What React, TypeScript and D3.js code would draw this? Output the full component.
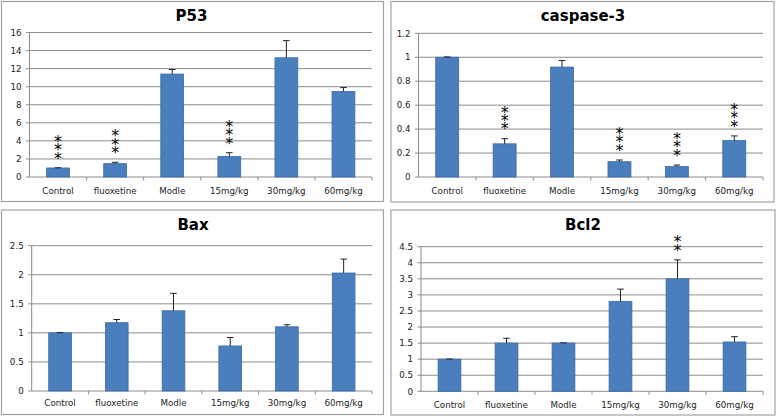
import React from "react";
import * as d3 from "d3";

const categories = ["Control", "fluoxetine", "Modle", "15mg/kg", "30mg/kg", "60mg/kg"];

const p53Values = [1.0, 1.48, 11.4, 2.27, 13.2, 9.47];
const p53Errors = [0.02, 0.15, 0.5, 0.42, 1.9, 0.43];
const p53Stars = [3, 3, 0, 3, 0, 0];
const p53Ticks = [0, 2, 4, 6, 8, 10, 12, 14, 16];

const caspValues = [1.0, 0.277, 0.918, 0.128, 0.087, 0.305];
const caspErrors = [0.003, 0.043, 0.055, 0.014, 0.013, 0.038];
const caspStars = [0, 3, 0, 3, 3, 3];
const caspTicks = [0, 0.2, 0.4, 0.6, 0.8, 1, 1.2];

const baxValues = [1.0, 1.175, 1.38, 0.775, 1.105, 2.03];
const baxErrors = [0.005, 0.055, 0.3, 0.145, 0.035, 0.24];
const baxStars = [0, 0, 0, 0, 0, 0];
const baxTicks = [0, 0.5, 1, 1.5, 2, 2.5];

const bcl2Values = [1.0, 1.5, 1.5, 2.8, 3.5, 1.535];
const bcl2Errors = [0.005, 0.15, 0.01, 0.38, 0.59, 0.165];
const bcl2Stars = [0, 0, 0, 0, 2, 0];
const bcl2Ticks = [0, 0.5, 1, 1.5, 2, 2.5, 3, 3.5, 4, 4.5];

const titles = ["P53", "caspase-3", "Bax", "Bcl2"];

type PanelCfg = {
  title: string;
  values: number[];
  errors: number[];
  stars: number[];
  ticks: number[];
  box: [number, number, number, number];
  plot: { left: number; right: number; top: number; bottom: number };
  labelY: number;
  titleX: number;
  titleY: number;
};

const panels: PanelCfg[] = [
  {
    title: titles[0], values: p53Values, errors: p53Errors, stars: p53Stars, ticks: p53Ticks,
    box: [1.5, 1.5, 382, 200],
    plot: { left: 29.5, right: 372, top: 32.5, bottom: 177 },
    labelY: 194, titleX: 191.5, titleY: 21,
  },
  {
    title: titles[1], values: caspValues, errors: caspErrors, stars: caspStars, ticks: caspTicks,
    box: [391, 1.5, 383, 200.5],
    plot: { left: 418.5, right: 763, top: 33.3, bottom: 177 },
    labelY: 194, titleX: 583, titleY: 20.5,
  },
  {
    title: titles[2], values: baxValues, errors: baxErrors, stars: baxStars, ticks: baxTicks,
    box: [1.5, 210, 382, 204.5],
    plot: { left: 31.7, right: 372, top: 245.7, bottom: 391 },
    labelY: 406, titleX: 193, titleY: 229.5,
  },
  {
    title: titles[3], values: bcl2Values, errors: bcl2Errors, stars: bcl2Stars, ticks: bcl2Ticks,
    box: [391, 210, 384, 205],
    plot: { left: 421, right: 763, top: 246.7, bottom: 391.3 },
    labelY: 407.5, titleX: 583, titleY: 230,
  },
];

const FONT = "'DejaVu Sans', Verdana, sans-serif";
const GRID = "#8c8c8c";
const BAR = "#4a7ebd";
const BAR_STROKE = "#3b6aa3";
const STAR_STEP = 8.4;
const STAR_FS = 16;
const PAD = 12;

function Panel({ cfg }: { cfg: PanelCfg }) {
  const { plot } = cfg;
  const maxTick = cfg.ticks[cfg.ticks.length - 1];
  const y = d3.scaleLinear().domain([0, maxTick]).range([plot.bottom, plot.top]);
  const x = d3.scaleBand<string>().domain(categories).range([plot.left, plot.right]).paddingInner(0).paddingOuter(0);
  const bw = x.bandwidth() * 0.4;
  const fmt = (v: number) => String(Math.round(v * 100) / 100);
  const [bx, by, bwid, bh] = cfg.box;

  return (
    <g>
      <rect x={bx} y={by} width={bwid} height={bh} fill="#fff" stroke="#a3a3a3" strokeWidth={1.2} />
      <text x={cfg.titleX} y={cfg.titleY} textAnchor="middle" fontFamily={FONT} fontWeight="bold" fontSize={15} fill="#000">
        {cfg.title}
      </text>
      {cfg.ticks.map((t) => (
        <g key={"t" + t}>
          {t > 0 && (
            <line x1={plot.left} x2={plot.right} y1={y(t)} y2={y(t)} stroke={GRID} strokeWidth={1} />
          )}
          <line x1={plot.left - 3.5} x2={plot.left} y1={y(t)} y2={y(t)} stroke={GRID} strokeWidth={1} />
          <text x={plot.left - 8} y={y(t) + 3.2} textAnchor="end" fontFamily={FONT} fontSize={8.7} fill="#222">
            {fmt(t)}
          </text>
        </g>
      ))}
      <line x1={plot.left} x2={plot.left} y1={plot.top} y2={plot.bottom} stroke={GRID} strokeWidth={1} />
      <line x1={plot.left} x2={plot.right} y1={plot.bottom} y2={plot.bottom} stroke={GRID} strokeWidth={1} />
      {categories.map((c, i) => (
        <line key={"xt" + i} x1={(x(c) as number) + x.bandwidth()} x2={(x(c) as number) + x.bandwidth()}
          y1={plot.bottom} y2={plot.bottom + 3.5} stroke={GRID} strokeWidth={1} />
      ))}
      {categories.map((c, i) => {
        const cx = (x(c) as number) + x.bandwidth() / 2;
        const v = cfg.values[i];
        const e = cfg.errors[i];
        const top = y(v);
        const errTop = y(v + e);
        const n = cfg.stars[i];
        // center of the top-most star
        const topStar = errTop - 9 - (n - 1) * STAR_STEP;
        return (
          <g key={c}>
            <rect x={cx - bw / 2} y={top} width={bw} height={plot.bottom - top} fill={BAR} stroke={BAR_STROKE} strokeWidth={0.8} />
            <line x1={cx} x2={cx} y1={top} y2={errTop} stroke="#222" strokeWidth={1} />
            <line x1={cx - 3.3} x2={cx + 3.3} y1={errTop} y2={errTop} stroke="#222" strokeWidth={1} />
            {n > 0 && (
              <foreignObject x={cx - 10} y={topStar - 4.2 - PAD} width={20} height={n * STAR_STEP + 2 * PAD}
                style={{ overflow: "visible" }}>
                <div
                  style={{
                    fontFamily: FONT,
                    fontSize: STAR_FS + "px",
                    lineHeight: STAR_STEP + "px",
                    textAlign: "center",
                    color: "#000",
                    margin: 0,
                    paddingTop: PAD + "px",
                    whiteSpace: "pre",
                  }}
                >
                  {d3.range(n).map(() => "*").join("\n")}
                </div>
              </foreignObject>
            )}
            <text x={cx} y={cfg.labelY} textAnchor="middle" fontFamily={FONT} fontSize={8.7} fill="#222">
              {c}
            </text>
          </g>
        );
      })}
    </g>
  );
}

export default function App() {
  return (
    <div style={{ position: "fixed", left: 0, top: 0 }}>
      <svg width={778} height={418} viewBox="0 0 778 418" style={{ display: "block", background: "#fff" }}>
        <rect x={0} y={0} width={778} height={418} fill="#fff" />
        {panels.map((p) => (
          <Panel key={p.title} cfg={p} />
        ))}
      </svg>
    </div>
  );
}
